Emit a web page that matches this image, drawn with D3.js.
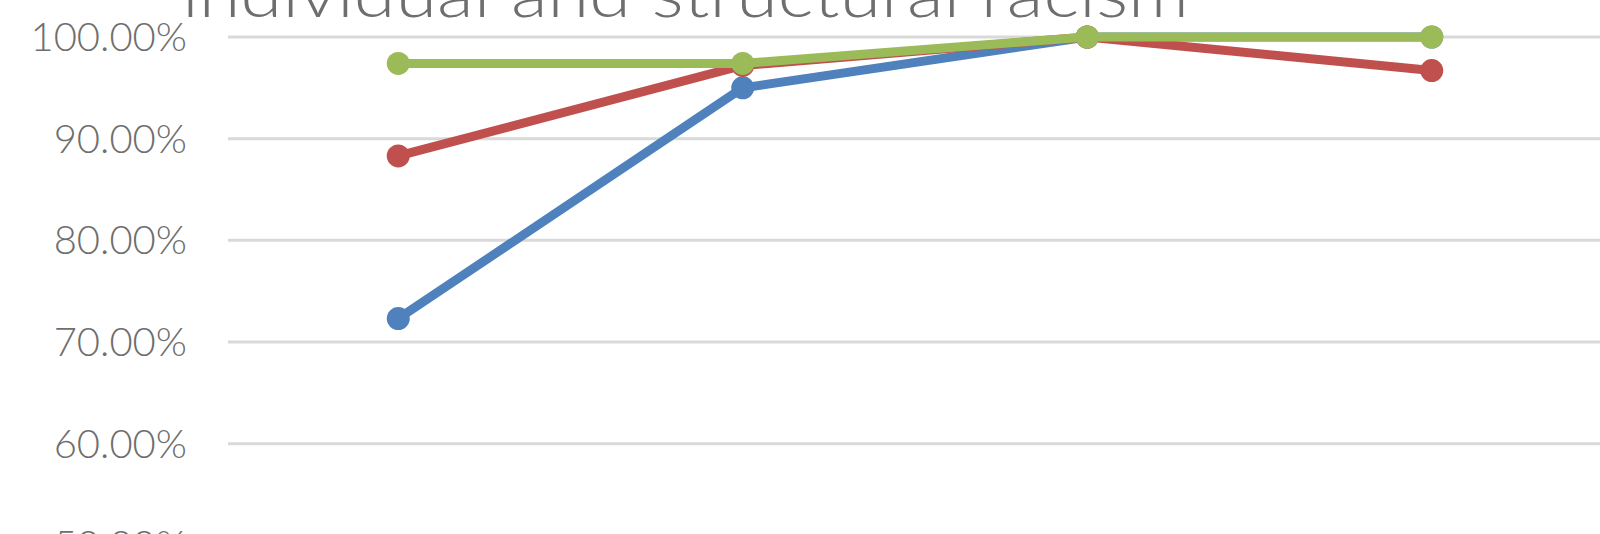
<!DOCTYPE html>
<html>
<head>
<meta charset="utf-8">
<script src="https://cdn.jsdelivr.net/npm/d3@7"></script>
<style>
  html, body { margin: 0; padding: 0; background: #fff; overflow: hidden; }
  svg { display: block; }
  text { font-family: Lato, "Open Sans", sans-serif; font-weight: 300; fill: #6e6e6e; }
</style>
</head>
<body>
<svg id="chart" width="1600" height="534"></svg>
<script>
// chart data
const categories = ['A', 'B', 'C', 'D']
const seriesNames = ['Series 1', 'Series 2', 'Series 3']
const blueValues = [72.3, 95.0, 100.0, 100.0]
const redValues = [88.3, 97.2, 100.0, 96.7]
const greenValues = [97.4, 97.4, 100.0, 100.0]
const yTicks = [50, 60, 70, 80, 90, 100]
const titleText = 'individual and structural racism'

const colors = ['#4f81bd', '#c0504d', '#9bbb59']
const series = [blueValues, redValues, greenValues]

const svg = d3.select('#chart')
const width = 1600

const x = d3.scaleBand().domain(categories).range([226, 1604]).padding(0)
const y = d3.scaleLinear().domain([50, 100]).range([545.3, 37])

// gridlines
svg.append('g')
  .attr('class', 'grid')
  .selectAll('line')
  .data(yTicks)
  .enter().append('line')
  .attr('x1', 228)
  .attr('x2', width)
  .attr('y1', (d) => y(d))
  .attr('y2', (d) => y(d))
  .attr('stroke', '#d9d9d9')
  .attr('stroke-width', 3)

// y axis labels
const yAxis = d3.axisLeft(y)
  .tickValues(yTicks)
  .tickSize(0)
  .tickPadding(0)
  .tickFormat((d) => d3.format('.2f')(d) + '%')

const axisG = svg.append('g')
  .attr('transform', 'translate(187,0)')
  .call(yAxis)
axisG.select('.domain').remove()
axisG.selectAll('text')
  .attr('font-size', 40)
  .attr('dy', '0.34em')
  .style('font-family', 'Lato, "Open Sans", sans-serif')
  .style('font-weight', 300)
  .attr('fill', '#6e6e6e')

// lines and markers
const line = d3.line()
  .x((d, i) => x(categories[i]) + x.bandwidth() / 2)
  .y((d) => y(d))

const seriesG = svg.append('g').attr('class', 'series')
series.forEach((values, s) => {
  const g = seriesG.append('g').attr('class', 'line-' + s)
  g.append('path')
    .datum(values)
    .attr('d', line)
    .attr('fill', 'none')
    .attr('stroke', colors[s])
    .attr('stroke-width', 9)
    .attr('stroke-linejoin', 'round')
    .attr('stroke-linecap', 'round')
  g.selectAll('circle')
    .data(values)
    .enter().append('circle')
    .attr('cx', (d, i) => x(categories[i]) + x.bandwidth() / 2)
    .attr('cy', (d) => y(d))
    .attr('r', 11.5)
    .attr('fill', colors[s])
})

// title (cut off at top)
svg.append('text')
  .attr('x', 182)
  .attr('y', 17)
  .attr('font-size', 66)
  .attr('textLength', 1007)
  .attr('lengthAdjust', 'spacingAndGlyphs')
  .text(titleText)
</script>
</body>
</html>
